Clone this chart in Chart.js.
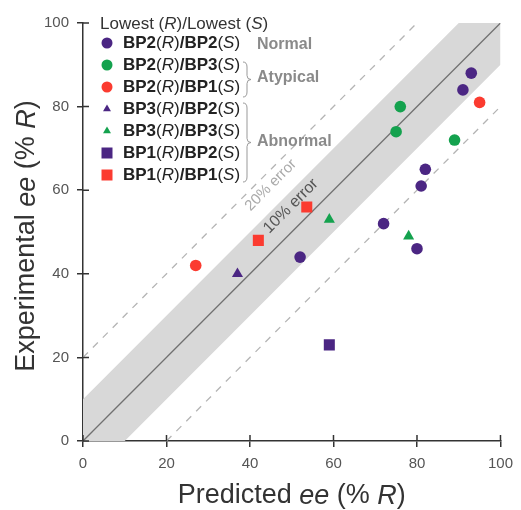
<!DOCTYPE html>
<html>
<head>
<meta charset="utf-8">
<script src="https://cdn.jsdelivr.net/npm/chart.js"></script>
<style>
  body { margin: 0; background: #fff; }
  canvas { display: block; }
</style>
</head>
<body>
<canvas id="c" width="521" height="510"></canvas>
<script>
// values: [predicted, experimental]
const bp2bp2 = [[93, 88], [91, 84], [82, 65], [81, 61], [72, 52], [80, 46], [52, 44]];
const bp2bp3 = [[76, 80], [75, 74], [89, 72]];
const bp2bp1 = [[95, 81], [27, 42]];
const bp3bp2 = [[37, 40]];
const bp3bp3 = [[59, 53], [78, 49]];
const bp1bp2 = [[59, 23]];
const bp1bp1 = [[42, 48], [53.6, 56]];

const tickValues = [0, 20, 40, 60, 80, 100];

// guide shapes
const band10 = [[0, 0], [0, 10], [90, 100], [100, 100], [100, 90], [10, 0]];
const diagonal = [[0, 0], [100, 100]];
const upper20 = [[0, 20], [80, 100]];
const lower20 = [[20, 0], [100, 80]];

const PURPLE = '#4b2683', GREEN = '#14a24e', RED = '#fb3b30';
const FONT = '"Liberation Sans", Arial, Helvetica, sans-serif';

const pts = a => a.map(([x, y]) => ({ x, y }));

function series(data, color, style, r, R, S) {
  return {
    data: pts(data), backgroundColor: color, borderWidth: 0,
    pointStyle: style, pointRadius: r, pointHoverRadius: r,
    legR: R, legS: S, order: 0
  };
}

const datasets = [
  series(bp2bp2, PURPLE, 'circle', 5.8, 'BP2', 'BP2'),
  series(bp2bp3, GREEN, 'circle', 5.8, 'BP2', 'BP3'),
  series(bp2bp1, RED, 'circle', 5.8, 'BP2', 'BP1'),
  series(bp3bp2, PURPLE, 'triangle', 6.4, 'BP3', 'BP2'),
  series(bp3bp3, GREEN, 'triangle', 6.4, 'BP3', 'BP3'),
  series(bp1bp2, PURPLE, 'rect', 7.8, 'BP1', 'BP2'),
  series(bp1bp1, RED, 'rect', 7.8, 'BP1', 'BP1'),
  { data: pts(diagonal), showLine: true, borderColor: '#707070', borderWidth: 1.3, pointRadius: 0, order: 5 },
  { data: pts(upper20), showLine: true, borderColor: '#b4b4b4', borderWidth: 1.3, borderDash: [7, 7], pointRadius: 0, order: 5 },
  { data: pts(lower20), showLine: true, borderColor: '#b4b4b4', borderWidth: 1.3, borderDash: [7, 7], pointRadius: 0, order: 5 },
  { data: pts(band10), showLine: true, fill: 'shape', backgroundColor: '#d8d8d8', borderWidth: 0, pointRadius: 0, order: 10 }
];

function rich(ctx, segs, x, y, draw) {
  let cx = x;
  segs.forEach(([t, f]) => {
    ctx.font = f;
    if (draw) ctx.fillText(t, cx, y);
    cx += ctx.measureText(t).width;
  });
  return cx - x;
}

function marker(ctx, style, x, y, color) {
  ctx.fillStyle = color;
  ctx.beginPath();
  if (style === 'circle') ctx.arc(x, y, 5.5, 0, Math.PI * 2);
  else if (style === 'rect') ctx.rect(x - 5.5, y - 5.5, 11, 11);
  else {
    const r = 4.6;
    ctx.moveTo(x, y - r);
    ctx.lineTo(x + r * 0.866, y + r * 0.5);
    ctx.lineTo(x - r * 0.866, y + r * 0.5);
    ctx.closePath();
  }
  ctx.fill();
}

function brace(ctx, x, y0, y1) {
  const m = (y0 + y1) / 2, w = 4;
  ctx.beginPath();
  ctx.moveTo(x, y0);
  ctx.quadraticCurveTo(x + w, y0, x + w, y0 + 5);
  ctx.lineTo(x + w, m - 4);
  ctx.quadraticCurveTo(x + w, m, x + w + 4, m);
  ctx.quadraticCurveTo(x + w, m, x + w, m + 4);
  ctx.lineTo(x + w, y1 - 5);
  ctx.quadraticCurveTo(x + w, y1, x, y1);
  ctx.stroke();
}

const decor = {
  id: 'decor',
  afterDatasetsDraw(chart) {
    const { ctx } = chart;
    const xs = chart.scales.x, ys = chart.scales.y;
    // error labels along the diagonal
    const label = (txt, px, py, size, color) => {
      ctx.save();
      ctx.translate(xs.getPixelForValue(px), ys.getPixelForValue(py));
      ctx.rotate(-Math.PI / 4);
      ctx.font = size + 'px ' + FONT;
      ctx.fillStyle = color;
      ctx.textAlign = 'center';
      ctx.textBaseline = 'middle';
      ctx.fillText(txt, 0, 0);
      ctx.restore();
    };
    label('10% error', 49.8, 56.2, 16, '#555');
    label('20% error', 45, 61.2, 15, '#aaa');
  },
  afterDraw(chart) {
    const { ctx, chartArea } = chart;
    const xs = chart.scales.x, ys = chart.scales.y;
    ctx.save();
    // inner halves of the tick marks
    ctx.strokeStyle = '#333';
    ctx.lineWidth = 1.5;
    ctx.beginPath();
    tickValues.forEach(v => {
      const px = xs.getPixelForValue(v);
      ctx.moveTo(px, chartArea.bottom);
      ctx.lineTo(px, chartArea.bottom - 6);
      const py = ys.getPixelForValue(v);
      ctx.moveTo(chartArea.left, py);
      ctx.lineTo(chartArea.left + 6, py);
    });
    ctx.stroke();

    const reg = s => s + 'px ' + FONT;
    const ita = s => 'italic ' + s + 'px ' + FONT;
    const bold = s => 'bold ' + s + 'px ' + FONT;
    ctx.fillStyle = '#333';
    ctx.textBaseline = 'middle';

    // axis titles
    const xt = [['Predicted ', reg(27)], ['ee', ita(27)], [' (% ', reg(27)], ['R', ita(27)], [')', reg(27)]];
    const yt = [['Experimental ', reg(27)], ['ee', ita(27)], [' (% ', reg(27)], ['R', ita(27)], [')', reg(27)]];
    const cx = (chartArea.left + chartArea.right) / 2;
    const wx = rich(ctx, xt, 0, 0, false);
    rich(ctx, xt, cx - wx / 2, 496, true);
    ctx.save();
    ctx.translate(27, (chartArea.top + chartArea.bottom) / 2 + 4);
    ctx.rotate(-Math.PI / 2);
    const wy = rich(ctx, yt, 0, 0, false);
    rich(ctx, yt, -wy / 2, 0, true);
    ctx.restore();

    // legend
    rich(ctx, [['Lowest (', reg(17)], ['R', ita(17)], [')/Lowest (', reg(17)], ['S', ita(17)], [')', reg(17)]], 100, 24, true);
    const rows = [43, 65, 87, 109, 131, 153, 175];
    chart.data.datasets.filter(d => d.legR).forEach((d, i) => {
      const y = rows[i];
      marker(ctx, d.pointStyle, 107, y, d.backgroundColor);
      ctx.fillStyle = '#222';
      rich(ctx, [[d.legR, bold(17)], ['(', reg(17)], ['R', ita(17)], [')', reg(17)],
                 ['/' + d.legS, bold(17)], ['(', reg(17)], ['S', ita(17)], [')', reg(17)]], 123, y, true);
    });

    // group labels
    ctx.strokeStyle = '#999';
    ctx.lineWidth = 1;
    brace(ctx, 243, 62, 97);
    brace(ctx, 243, 103, 182);
    ctx.fillStyle = '#8a8a8a';
    ctx.font = bold(16);
    ctx.fillText('Normal', 257, 45);
    ctx.fillText('Atypical', 257, 78);
    ctx.fillText('Abnormal', 257, 142);
    ctx.restore();
  }
};

function axis(fit) {
  return {
    type: 'linear', min: 0, max: 100,
    afterBuildTicks: s => { s.ticks = tickValues.map(v => ({ value: v })); },
    ticks: { color: '#555', font: { family: FONT, size: 15 }, padding: 8 },
    grid: { drawOnChartArea: false, drawTicks: true, tickLength: 6, color: '#333', lineWidth: 1.5 },
    border: { display: true, color: '#333', width: 1.5 },
    afterFit: fit
  };
}

new Chart(document.getElementById('c'), {
  type: 'scatter',
  data: { datasets },
  options: {
    responsive: false,
    animation: false,
    layout: { padding: { top: 23, right: 18, left: 0, bottom: 0 } },
    plugins: { legend: { display: false }, tooltip: { enabled: false } },
    scales: {
      x: axis(s => { s.height = 69; }),
      y: axis(s => { s.width = 83; })
    }
  },
  plugins: [decor]
});
</script>
</body>
</html>
